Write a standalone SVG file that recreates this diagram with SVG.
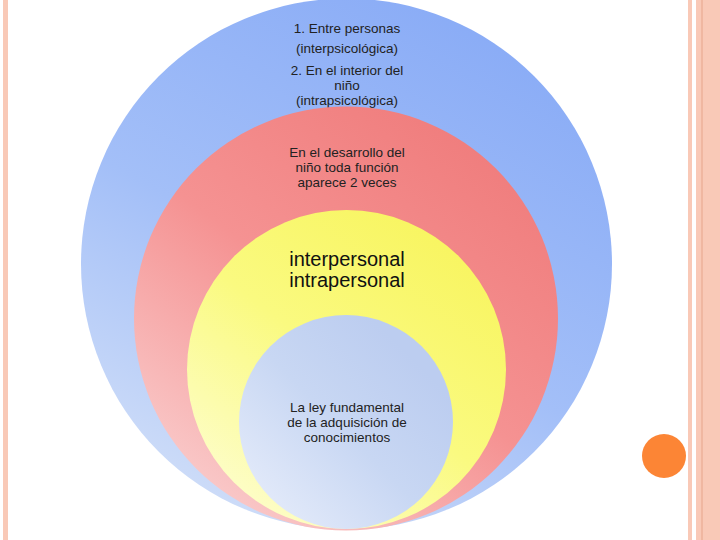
<svg xmlns="http://www.w3.org/2000/svg" width="720" height="540" viewBox="0 0 720 540">
<defs>
<linearGradient id="gBlue" x1="0.75" y1="0.05" x2="0.25" y2="0.95">
<stop offset="0" stop-color="#8aacf6"/><stop offset="0.55" stop-color="#a3bff8"/><stop offset="1" stop-color="#cddcf8"/>
</linearGradient>
<linearGradient id="gRed" x1="0.8" y1="0.1" x2="0.2" y2="0.9">
<stop offset="0" stop-color="#f07e7e"/><stop offset="0.5" stop-color="#f59292"/><stop offset="1" stop-color="#f9c6c6"/>
</linearGradient>
<linearGradient id="gYellow" x1="0.8" y1="0.1" x2="0.2" y2="0.9">
<stop offset="0" stop-color="#f8f562"/><stop offset="0.5" stop-color="#fafa80"/><stop offset="1" stop-color="#fdfdc4"/>
</linearGradient>
<linearGradient id="gSmall" x1="0.8" y1="0.2" x2="0.15" y2="0.85">
<stop offset="0" stop-color="#bccdf0"/><stop offset="0.5" stop-color="#c8d7f3"/><stop offset="1" stop-color="#e0e8f9"/>
</linearGradient>
<style>
.t{font-family:"Liberation Sans",Arial,sans-serif;font-size:13.5px;fill:#222;text-anchor:middle}
.b{font-family:"Liberation Sans",Arial,sans-serif;font-size:20px;fill:#111;text-anchor:middle}
.stripe{fill:#f9c9b7}
</style>
</defs>
<rect width="720" height="540" fill="#ffffff"/>
<g id="frame">
<rect class="stripe" x="3" y="0" width="5" height="540"/>
<rect class="stripe" x="688" y="0" width="4" height="540"/>
<rect class="stripe" x="696" y="0" width="24" height="540"/>
<rect x="701.5" y="0" width="1" height="540" fill="#e8a58c"/>
<circle cx="664" cy="456" r="22" fill="#fc8535"/>
</g>
<g id="outer">
<circle cx="346.5" cy="264" r="265.5" fill="url(#gBlue)"/>
<text class="t" x="347" y="33">1. Entre personas</text>
<text class="t" x="347" y="53">(interpsicológica)</text>
<text class="t" x="347" y="75">2. En el interior del</text>
<text class="t" x="347" y="90">niño</text>
<text class="t" x="347" y="104.5">(intrapsicológica)</text>
</g>
<g id="red">
<circle cx="346" cy="318.5" r="212" fill="url(#gRed)"/>
<text class="t" x="347" y="157">En el desarrollo del</text>
<text class="t" x="347" y="172">niño toda función</text>
<text class="t" x="347" y="187">aparece 2 veces</text>
</g>
<g id="yellow">
<circle cx="346.5" cy="369.5" r="159.5" fill="url(#gYellow)"/>
<text class="b" x="347" y="266">interpersonal</text>
<text class="b" x="347" y="287">intrapersonal</text>
</g>
<g id="inner">
<circle cx="346" cy="422" r="107" fill="url(#gSmall)"/>
<text class="t" x="347" y="412">La ley fundamental</text>
<text class="t" x="347" y="427">de la adquisición de</text>
<text class="t" x="347" y="442">conocimientos</text>
</g>
<g id="connectors"/>
</svg>
